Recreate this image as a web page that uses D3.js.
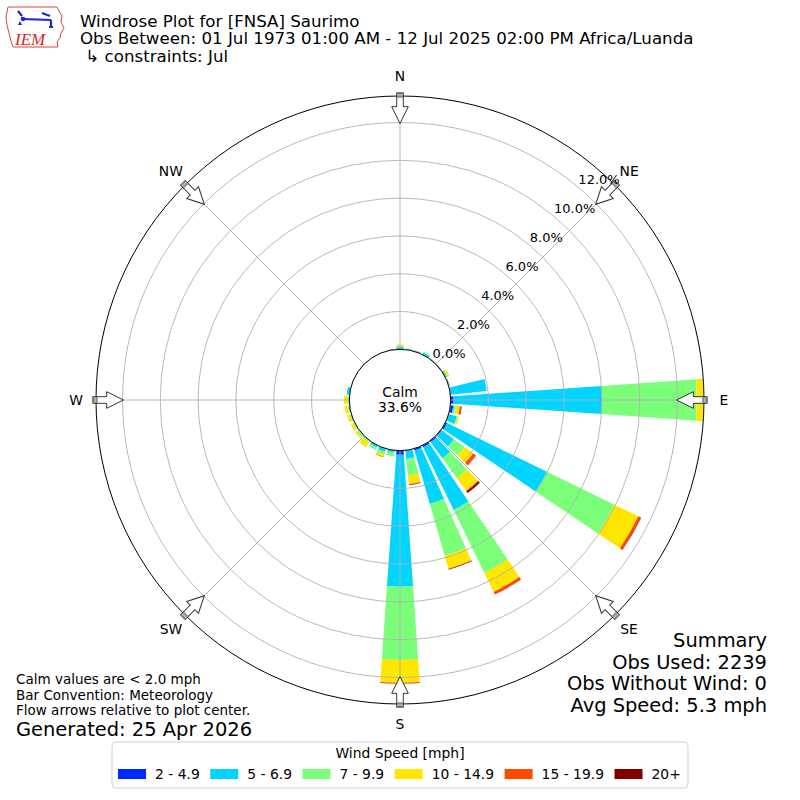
<!DOCTYPE html>
<html><head><meta charset="utf-8">
<script src="https://cdn.jsdelivr.net/npm/d3@7"></script>
<style>body{margin:0;background:#fff} svg{display:block;font-family:"DejaVu Sans",sans-serif}</style>
</head><body><svg id="c" width="800" height="800"></svg>
<script>
// ---------- data ----------
const directions = [0,10,20,30,40,50,60,70,80,90,100,110,120,130,140,150,160,170,180,190,200,210,220,230,240,250,260,270,280,290,300,310,320,330,340,350];
const speedBins = ["2 - 4.9","5 - 6.9","7 - 9.9","10 - 14.9","15 - 19.9","20+"];
const binColors = ["#002aff","#00d4ff","#7bff7b","#ffe600","#ff4800","#800000"];
const pct_2_5   = [0.02,0,0.02,0.02,0.02,0.01,0.03,0.03,0.03,0.15,0.15,0.03,0.10,0.05,0.08,0.10,0.10,0.03,0.22,0.02,0.02,0.01,0,0,0,0,0,0,0,0,0,0,0,0,0,0.02];
const pct_5_7   = [0.10,0.05,0.03,0.10,0.03,0.03,0.05,0.03,1.90,7.87,0.05,0.42,5.87,0.80,1.05,3.69,2.94,0.42,6.98,0.10,0.15,0.10,0.02,0.02,0.02,0.03,0.05,0.05,0.15,0.02,0,0,0,0,0,0];
const pct_7_10  = [0.05,0.02,0,0.05,0,0,0.05,0,0,5.00,0.10,0.05,3.98,0.70,1.30,3.71,2.86,0.89,3.87,0.20,0.15,0.15,0.10,0.10,0.05,0.05,0.03,0.03,0,0,0,0,0,0,0,0];
const pct_10_15 = [0.08,0,0,0,0,0.02,0.10,0,0,0.35,0.20,0.08,1.40,0.55,0.82,1.12,0.70,0.45,1.21,0,0.12,0,0.28,0.12,0.15,0.15,0.20,0.20,0,0,0,0,0,0,0,0];
const pct_15_20 = [0,0,0,0,0,0,0,0,0,0,0.07,0,0.15,0.18,0.05,0.13,0.03,0.03,0.03,0,0.03,0,0,0,0,0,0,0,0,0,0,0,0,0,0,0];
const pct_20up  = [0,0,0,0,0,0,0,0,0,0,0.03,0,0.02,0.02,0.10,0.02,0.03,0.03,0.02,0,0,0,0,0,0,0,0,0,0,0,0,0,0,0,0,0];
const radialTicks = [0,2,4,6,8,10,12];
const compassLabels = ["N","NE","E","SE","S","SW","W","NW"];
const compassAngles = [0,45,90,135,180,225,270,315];
const calmPct = 33.6;
const titleLines = ["Windrose Plot for [FNSA] Saurimo","Obs Between: 01 Jul 1973 01:00 AM - 12 Jul 2025 02:00 PM Africa/Luanda"," \u21b3 constraints: Jul"];
const noteLines = ["Calm values are < 2.0 mph","Bar Convention: Meteorology","Flow arrows relative to plot center."];
const generatedText = "Generated: 25 Apr 2026";
const summaryLines = ["Summary","Obs Used: 2239","Obs Without Wind: 0","Avg Speed: 5.3 mph"];
const legendTitle = "Wind Speed [mph]";

// ---------- setup ----------
const svg = d3.select("#c");
const cx = 400, cy = 400, outerR = 304;
const rScale = d3.scaleLinear().domain([0,12]).range([50.7,277.5]);
const aScale = d3.scaleLinear().domain([0,360]).range([0,2*Math.PI]);
const halfOpen = 4;
const rad = d => d*Math.PI/180;

const defs = svg.append("defs");
defs.append("clipPath").attr("id","pc").append("circle").attr("cx",0).attr("cy",0).attr("r",outerR);

const g = svg.append("g").attr("transform",`translate(${cx},${cy})`);

// bars
const columns = [pct_2_5,pct_5_7,pct_7_10,pct_10_15,pct_15_20,pct_20up];
const rows = directions.map((d,i)=>{const o={dir:d}; speedBins.forEach((b,k)=>o[b]=columns[k][i]); return o;});
const series = d3.stack().keys(speedBins)(rows);
const arc = d3.arc();
const barsG = g.append("g").attr("clip-path","url(#pc)");
series.forEach((s,k)=>{
  barsG.selectAll(null).data(s.filter(p=>p[1]-p[0]>0)).enter().append("path")
    .attr("fill",binColors[k])
    .attr("d",p=>arc({innerRadius:rScale(p[0]),outerRadius:rScale(p[1]),
       startAngle:aScale(p.data.dir-halfOpen),endAngle:aScale(p.data.dir+halfOpen)}));
});

// grid
const grid = g.append("g").attr("fill","none").attr("stroke","#b0b0b0").attr("stroke-width",0.9);
grid.selectAll("circle").data(radialTicks).enter().append("circle").attr("r",d=>rScale(d));
grid.selectAll("line").data(compassAngles).enter().append("line")
  .attr("x1",0).attr("y1",0)
  .attr("x2",d=>outerR*Math.sin(aScale(d))).attr("y2",d=>-outerR*Math.cos(aScale(d)));

// calm circle
g.append("circle").attr("r",rScale(0)).attr("fill","#fff").attr("stroke","#000").attr("stroke-width",1);
g.append("text").attr("x",0).attr("y",-3.3).attr("text-anchor","middle").attr("font-size",13.89).text("Calm");
g.append("text").attr("x",0).attr("y",11.7).attr("text-anchor","middle").attr("font-size",13.89).text(calmPct.toFixed(1)+"%");

// outer circle
g.append("circle").attr("r",outerR).attr("fill","none").attr("stroke","#000").attr("stroke-width",1);

// arrows
const arrowPts = [[-3.3,-307],[3.3,-307],[3.3,-293.3],[8.3,-293.3],[0,-276.7],[-8.3,-293.3],[-3.3,-293.3]];
compassAngles.forEach(a=>{
  const ag = g.append("g").attr("transform",`rotate(${a})`);
  ag.append("polygon").attr("points",arrowPts.map(p=>p.join(",")).join(" "))
    .attr("fill","#fff").attr("stroke","#333").attr("stroke-width",1);
  ag.append("rect").attr("x",-3.3).attr("y",-307).attr("width",6.6).attr("height",4)
    .attr("fill","#aaa").attr("stroke","#444").attr("stroke-width",0.8);
});

// compass labels
g.selectAll(".cl").data(compassAngles).enter().append("text")
  .attr("x",d=>324*Math.sin(rad(d))).attr("y",d=>-324*Math.cos(rad(d)))
  .attr("text-anchor","middle").attr("dominant-baseline","central").attr("font-size",13.89)
  .text((d,i)=>compassLabels[i]);

// radial labels
const la = rad(40);
g.selectAll(".rl").data(radialTicks).enter().append("text")
  .attr("x",d=>rScale(d)*Math.sin(la)).attr("y",d=>-rScale(d)*Math.cos(la)-3)
  .attr("font-size",13).text(d=>d.toFixed(1)+"%");

// title
const tb = [26.5,44,61.5];
titleLines.forEach((t,i)=>svg.append("text").attr("x",80).attr("y",tb[i]).attr("font-size",16.67)
  .attr("xml:space","preserve").style("white-space","pre").text(t));

// notes
const nb = [684,699.5,715];
noteLines.forEach((t,i)=>svg.append("text").attr("x",16).attr("y",nb[i]).attr("font-size",13.5).text(t));
svg.append("text").attr("x",16).attr("y",736).attr("font-size",19.44).text(generatedText);

// summary
const sb = [647,668.5,690,711.5];
summaryLines.forEach((t,i)=>svg.append("text").attr("x",767).attr("y",sb[i]).attr("text-anchor","end").attr("font-size",19.44).text(t));

// legend
const lg = svg.append("g");
lg.append("rect").attr("x",112).attr("y",742).attr("width",576).attr("height",46).attr("rx",4)
  .attr("fill","#fff").attr("stroke","#d0d0d0").attr("stroke-width",1);
lg.append("text").attr("x",400).attr("y",757.5).attr("text-anchor","middle").attr("font-size",13.89).text(legendTitle);
let lx = 118;
speedBins.forEach((b,k)=>{
  lg.append("rect").attr("x",lx).attr("y",769).attr("width",28).attr("height",10).attr("fill",binColors[k]);
  const t = lg.append("text").attr("x",lx+37).attr("y",779).attr("font-size",13.89).text(b);
  lx = lx+37+t.node().getComputedTextLength()+10.5;
});

// logo
const logo = svg.append("g");
logo.append("path").attr("d","M8,7 L57,7 L59,11 L62,16 L61,22 L64,28 L61,33 L60,38 L57,42 L58,47 L13,47 L11,41 L9,33 L7,25 L6,17 Z")
  .attr("fill","#fff").attr("stroke","#d44").attr("stroke-width",1);
logo.append("path").attr("d","M18,11 L22,16 M22,19 L51,20 M42,13 L50,16 M51,20 L51,27 M49,27 L53,27")
  .attr("stroke","#1a2acc").attr("stroke-width",2.2).attr("fill","none");
logo.append("circle").attr("cx",23).attr("cy",19).attr("r",2.3).attr("fill","#1a2acc");
logo.append("path").attr("d","M18,25 L20,21 L22,25 Z").attr("fill","#1a2acc");
logo.append("text").attr("x",15).attr("y",45).attr("font-family","Liberation Serif").attr("font-style","italic")
  .attr("font-size",17).attr("fill","#d22").text("IEM");
</script></body></html>
